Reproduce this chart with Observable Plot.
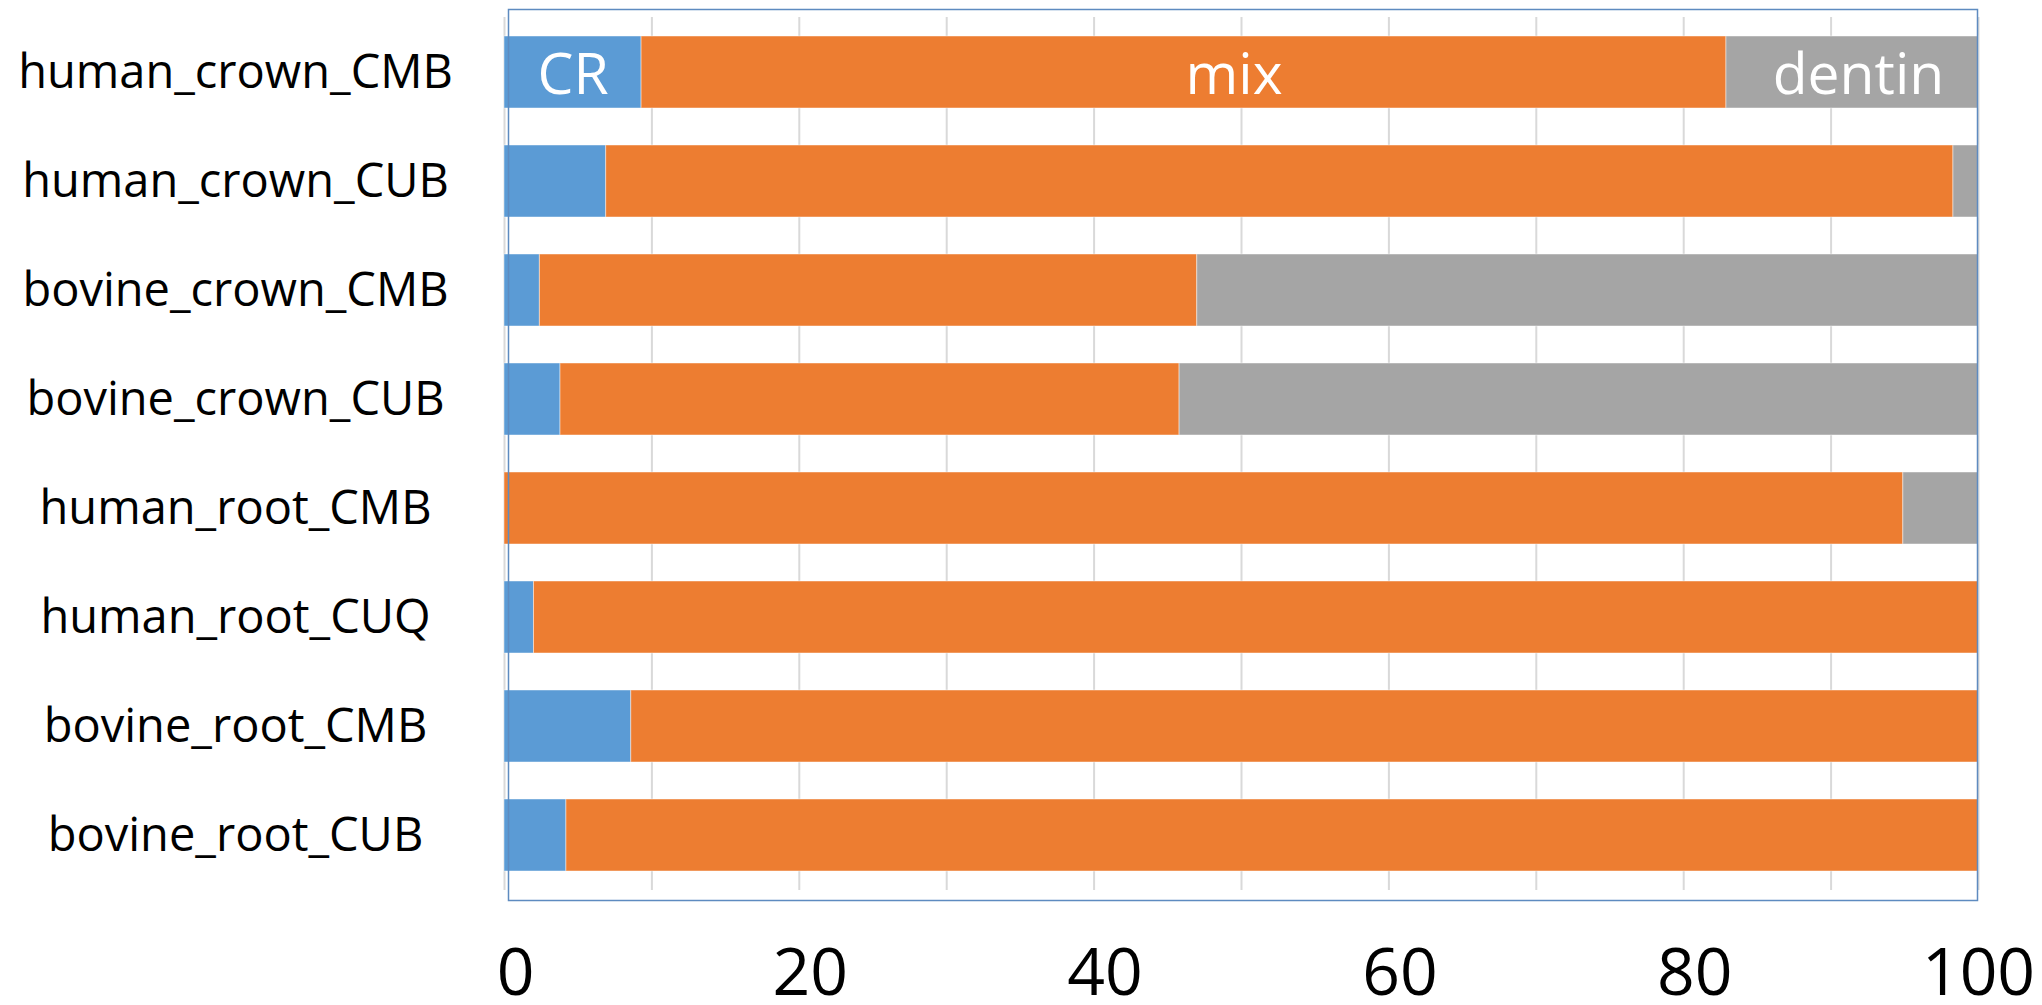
<!DOCTYPE html>
<html>
<head>
<meta charset="utf-8">
<script src="https://cdn.jsdelivr.net/npm/d3@7"></script>
<script src="https://cdn.jsdelivr.net/npm/@observablehq/plot@0.6"></script>
<style>
  html, body { margin: 0; padding: 0; background: #ffffff; }
  #chart svg { display: block; }
</style>
</head>
<body>
<div id="chart"></div>
<script>
// Samples, top to bottom
const samples = [
  "human_crown_CMB",
  "human_crown_CUB",
  "bovine_crown_CMB",
  "bovine_crown_CUB",
  "human_root_CMB",
  "human_root_CUQ",
  "bovine_root_CMB",
  "bovine_root_CUB"
];

// Composition parts (stack order) and their colours
const parts = ["CR", "mix", "dentin"];
const partColors = ["#5B9BD5", "#ED7D31", "#A5A5A5"];

// Percentage of each part per sample
const crValues     = [9.3, 6.9, 2.4, 3.8, 0.0, 2.0, 8.6, 4.2];
const mixValues    = [73.6, 91.4, 44.6, 42.0, 94.9, 98.0, 91.4, 95.8];
const dentinValues = [17.1, 1.7, 53.0, 54.2, 5.1, 0.0, 0.0, 0.0];

// Axis ticks
const xTicks = [0, 20, 40, 60, 80, 100];
const gridTicks = [0, 10, 20, 30, 40, 50, 60, 70, 80, 90, 100];

// Long-format table for stacking
const seriesValues = {CR: crValues, mix: mixValues, dentin: dentinValues};
const rows = [];
samples.forEach((s, i) => {
  parts.forEach(p => rows.push({sample: s, part: p, value: seriesValues[p][i]}));
});

// In-bar part names sit on the first bar, centred on each segment
const labelRows = rows.filter(d => d.sample === samples[0]);
const labelShift = {CR: 0, mix: 50, dentin: 6};

const font = "'Open Sans', 'DejaVu Sans', sans-serif";

const chart = Plot.plot({
  width: 2042,
  height: 1005,
  marginLeft: 504,
  marginRight: 64,
  marginTop: 17,
  marginBottom: 115,
  style: {background: "#ffffff", fontFamily: font},
  x: {domain: [0, 100], axis: null},
  y: {domain: samples, paddingInner: 0.338, paddingOuter: 0.169, axis: null},
  color: {domain: parts, range: partColors},
  marks: [
    Plot.gridX(gridTicks, {stroke: "#D9D9D9", strokeOpacity: 1, strokeWidth: 2}),
    Plot.barX(rows, Plot.stackX({
      x: "value",
      y: "sample",
      z: "part",
      fill: "part",
      order: parts,
      stroke: "#ffffff",
      strokeOpacity: 0.45,
      strokeWidth: 1
    })),
    ...parts.map(p => Plot.text(labelRows, Plot.stackX({
      x: "value",
      y: "sample",
      z: "part",
      order: parts,
      text: d => (d.part === p ? d.part : ""),
      fill: "#ffffff",
      fontSize: 57,
      fontFamily: font,
      dx: labelShift[p],
      dy: 3
    }))),
    // Sample names, centred in the left margin
    Plot.text(samples, {
      y: d => d,
      text: d => d,
      frameAnchor: "left",
      textAnchor: "middle",
      dx: -269,
      fontSize: 47,
      fontFamily: font,
      fill: "#000000"
    }),
    Plot.axisX(xTicks.filter(t => t < 100), {
      label: null,
      tickSize: 0,
      tickPadding: 58,
      fontSize: 66,
      fontFamily: font,
      fill: "#000000",
      dx: 11
    }),
    Plot.axisX([100], {
      label: null,
      tickSize: 0,
      tickPadding: 58,
      fontSize: 66,
      fontFamily: font,
      fill: "#000000",
      dx: 0
    }),
    Plot.frame({
      stroke: "#5E8BC0",
      strokeWidth: 1.5,
      insetTop: -8,
      insetBottom: -10,
      insetLeft: 4,
      insetRight: 1
    })
  ]
});

document.getElementById("chart").appendChild(chart);
</script>
</body>
</html>
